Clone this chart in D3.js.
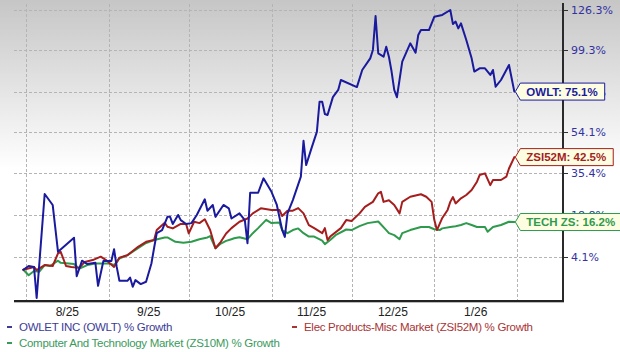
<!DOCTYPE html>
<html>
<head>
<meta charset="utf-8">
<script src="https://cdn.jsdelivr.net/npm/d3@7"></script>
<style>
  html, body { margin: 0; padding: 0; background: #fff; }
  svg { display: block; }
</style>
</head>
<body>
<svg id="chart" width="620" height="352"></svg>
<script>
// ---------- DATA ----------
const owltDates = ["2025-07-31","2025-08-02","2025-08-04","2025-08-05","2025-08-08","2025-08-11","2025-08-13","2025-08-19","2025-08-20","2025-08-22","2025-08-24","2025-08-27","2025-08-28","2025-08-30","2025-09-02","2025-09-03","2025-09-04","2025-09-05","2025-09-08","2025-09-09","2025-09-10","2025-09-11","2025-09-13","2025-09-15","2025-09-17","2025-09-18","2025-09-19","2025-09-21","2025-09-23","2025-09-24","2025-09-25","2025-09-27","2025-09-28","2025-09-30","2025-10-02","2025-10-04","2025-10-07","2025-10-08","2025-10-10","2025-10-11","2025-10-14","2025-10-16","2025-10-17","2025-10-20","2025-10-22","2025-10-23","2025-10-24","2025-10-27","2025-10-29","2025-11-01","2025-11-03","2025-11-05","2025-11-06","2025-11-07","2025-11-09","2025-11-12","2025-11-13","2025-11-14","2025-11-16","2025-11-18","2025-11-19","2025-11-20","2025-11-21","2025-11-22","2025-11-24","2025-11-26","2025-11-27","2025-12-03","2025-12-05","2025-12-08","2025-12-09","2025-12-10","2025-12-11","2025-12-13","2025-12-14","2025-12-15","2025-12-16","2025-12-17","2025-12-18","2025-12-20","2025-12-23","2025-12-25","2025-12-26","2025-12-27","2025-12-30","2026-01-01","2026-01-04","2026-01-07","2026-01-08","2026-01-09","2026-01-10","2026-01-11","2026-01-13","2026-01-15","2026-01-16","2026-01-18","2026-01-20","2026-01-22","2026-01-23","2026-01-24","2026-01-26","2026-01-29","2026-01-31"];
const owltValues = [0,1.2,0.9,-8.5,26.9,22.6,5.8,10.6,-2.0,2.9,1.8,2.2,-4.9,2.8,2.8,6.7,0.9,-3.4,-3.4,-2.4,-5.2,-3.2,-4.4,-3.7,2.0,7.1,12.2,13.3,18.1,18.1,15.5,18.8,16.9,15.5,15.8,18.8,24.8,20.4,22.6,18.1,22.6,21.3,17.5,19.4,16.9,8.7,27.4,27.4,33.3,27.8,22.6,13.3,10.9,19.4,24.5,34.0,50.0,39.0,46.6,54.3,69.6,69.6,63.2,62.7,72.1,76.0,81.6,77.6,87.4,94.4,99.6,122.1,97.5,95.4,101.6,95.4,86.5,76.0,72.0,92.4,103.8,97.9,109.2,112.5,112.5,121.5,122.8,126.3,116.5,118.2,113.6,117.0,105.9,94.4,86.5,88.4,88.4,84.5,87.4,77.8,81.6,90.4,75.1];

const zsiDates = ["2025-07-31","2025-08-04","2025-08-05","2025-08-08","2025-08-11","2025-08-13","2025-08-14","2025-08-16","2025-08-18","2025-08-21","2025-08-23","2025-08-26","2025-08-29","2025-08-31","2025-09-03","2025-09-05","2025-09-08","2025-09-12","2025-09-15","2025-09-18","2025-09-19","2025-09-22","2025-09-23","2025-09-25","2025-09-28","2025-09-30","2025-10-01","2025-10-03","2025-10-05","2025-10-07","2025-10-09","2025-10-11","2025-10-13","2025-10-15","2025-10-17","2025-10-20","2025-10-23","2025-10-25","2025-10-28","2025-11-01","2025-11-04","2025-11-05","2025-11-07","2025-11-09","2025-11-11","2025-11-13","2025-11-15","2025-11-17","2025-11-20","2025-11-21","2025-11-22","2025-11-23","2025-11-27","2025-11-29","2025-12-01","2025-12-04","2025-12-06","2025-12-09","2025-12-11","2025-12-12","2025-12-13","2025-12-15","2025-12-17","2025-12-19","2025-12-20","2025-12-23","2025-12-27","2025-12-29","2025-12-31","2026-01-01","2026-01-02","2026-01-04","2026-01-06","2026-01-07","2026-01-08","2026-01-09","2026-01-11","2026-01-13","2026-01-15","2026-01-17","2026-01-18","2026-01-20","2026-01-22","2026-01-23","2026-01-26","2026-01-28","2026-01-29","2026-01-31"];
const zsiValues = [0,0.9,-0.1,1.5,1.2,5.3,5.8,1.2,0.9,0.6,2.5,3.1,4.2,3.1,0.9,3.9,4.7,7.5,9.2,9.8,13.3,15.9,14.5,13.9,15.5,15.5,12.1,16.3,15.8,17.2,13.3,7.0,9.2,12.1,14.0,16.3,17.5,19.4,21.3,20.7,20.7,18.4,20.4,20.4,21.4,19.4,15.1,14.0,12.2,14.0,9.8,11.0,14.0,16.9,16.6,19.4,21.9,23.8,27.2,27.8,23.8,24.4,22.6,19.4,23.8,25.8,26.8,25.8,23.8,17.0,13.3,17.7,20.7,23.8,25.7,23.2,25.2,26.5,28.5,31.9,34.7,35.4,30.5,32.6,32.6,34.0,37.5,42.5];

const techDates = ["2025-07-31","2025-08-02","2025-08-04","2025-08-06","2025-08-08","2025-08-10","2025-08-13","2025-08-14","2025-08-17","2025-08-19","2025-08-21","2025-08-24","2025-08-27","2025-09-01","2025-09-03","2025-09-05","2025-09-08","2025-09-12","2025-09-15","2025-09-18","2025-09-22","2025-09-23","2025-09-26","2025-09-29","2025-10-02","2025-10-05","2025-10-08","2025-10-09","2025-10-11","2025-10-13","2025-10-15","2025-10-17","2025-10-18","2025-10-20","2025-10-23","2025-10-25","2025-10-27","2025-10-30","2025-11-01","2025-11-04","2025-11-05","2025-11-07","2025-11-09","2025-11-11","2025-11-13","2025-11-15","2025-11-17","2025-11-20","2025-11-21","2025-11-23","2025-11-25","2025-11-29","2025-12-01","2025-12-04","2025-12-07","2025-12-11","2025-12-14","2025-12-15","2025-12-17","2025-12-19","2025-12-20","2025-12-23","2025-12-27","2025-12-30","2026-01-01","2026-01-03","2026-01-04","2026-01-07","2026-01-09","2026-01-11","2026-01-13","2026-01-15","2026-01-17","2026-01-20","2026-01-21","2026-01-23","2026-01-26","2026-01-29","2026-01-31"];
const techValues = [0,-1.7,-0.4,-0.6,1.5,1.2,2.9,2.2,2.0,1.8,0.4,1.5,2.0,2.0,1.5,3.6,4.7,7.0,8.8,9.8,10.7,10.7,9.2,8.9,9.2,10.1,10.7,11.2,7.0,8.6,9.5,10.1,10.4,10.8,10.1,12.2,14.0,17.0,15.8,16.0,13.3,12.2,13.3,13.9,12.2,11.0,11.0,9.6,8.4,9.8,11.5,13.5,13.3,14.7,15.8,16.4,13.3,12.2,11.5,10.1,12.2,13.3,14.4,14.4,13.6,13.3,13.9,14.4,14.7,15.1,15.8,15.1,14.4,14.4,12.7,14.4,15.1,16.3,16.2];

const yTickValues = [4.1, 18.8, 35.4, 54.1, 75.0, 99.3, 126.3];
const monthStarts = ["2025-08-01","2025-09-01","2025-10-01","2025-11-01","2025-12-01","2026-01-01","2026-02-01"];
const monthLabels = ["8/25","9/25","10/25","11/25","12/25","1/26"];

const seriesNames = ["OWLT", "ZSI52M", "TECH ZS"];
const legendNames = ["OWLET INC (OWLT) % Growth", "Elec Products-Misc Market (ZSI52M) % Growth", "Computer And Technology Market (ZS10M) % Growth"];
const seriesColors = ["#1a1a9e", "#a51d1d", "#2e9a4c"];
const legendColors = ["#3c3c96", "#a83434", "#3a9a5c"];

// ---------- SCALES ----------
const parse = d3.timeParse("%Y-%m-%d");
const svg = d3.select("#chart");
const W = 620, H = 352;
const plotLeft = 14, plotRight = 563, plotTop = 4, plotBottom = 301;

const x = d3.scaleTime()
  .domain([parse("2025-08-01"), parse("2026-02-01")])
  .range([26, 517]);
const yLog = d3.scaleLog().domain([1.041, 2.263]).range([257, 10]);
const y = v => yLog(1 + v / 100);

// ---------- BACKGROUND ----------
const defs = svg.append("defs");
const grad = defs.append("linearGradient").attr("id", "bg").attr("x1", 0).attr("y1", 0).attr("x2", 0).attr("y2", 1);
grad.append("stop").attr("offset", "0%").attr("stop-color", "#c6c6c6");
grad.append("stop").attr("offset", "48%").attr("stop-color", "#ffffff");
grad.append("stop").attr("offset", "100%").attr("stop-color", "#ffffff");
svg.append("rect").attr("x", 0).attr("y", 0).attr("width", W).attr("height", H).attr("fill", "url(#bg)");

// ---------- GRID ----------
const grid = svg.append("g").attr("stroke", "#b4b4b4").attr("stroke-width", 1).attr("stroke-dasharray", "3,2").attr("fill", "none");
grid.selectAll("line.h").data(yTickValues).join("line")
  .attr("x1", plotLeft).attr("x2", plotRight)
  .attr("y1", d => Math.round(y(d)) + 0.5).attr("y2", d => Math.round(y(d)) + 0.5);
grid.selectAll("line.v").data(monthStarts).join("line")
  .attr("x1", d => Math.round(x(parse(d))) + 0.5).attr("x2", d => Math.round(x(parse(d))) + 0.5)
  .attr("y1", plotTop).attr("y2", plotBottom);

// ---------- LINES ----------
const series = [
  owltDates.map((d, i) => ({ date: parse(d), value: owltValues[i] })),
  zsiDates.map((d, i) => ({ date: parse(d), value: zsiValues[i] })),
  techDates.map((d, i) => ({ date: parse(d), value: techValues[i] }))
];
const line = d3.line().x(d => x(d.date)).y(d => y(d.value));
const drawOrder = [2, 1, 0];
svg.append("g").selectAll("path").data(drawOrder).join("path")
  .attr("d", i => line(series[i]))
  .attr("fill", "none")
  .attr("stroke", i => seriesColors[i])
  .attr("stroke-width", 2)
  .attr("stroke-linejoin", "round")
  .attr("stroke-linecap", "round");

// ---------- RIGHT AXIS ----------
const yAxisG = svg.append("g");
yAxisG.selectAll("line.tick").data(yTickValues).join("line")
  .attr("x1", plotRight).attr("x2", plotRight + 5)
  .attr("y1", d => Math.round(y(d)) + 0.5).attr("y2", d => Math.round(y(d)) + 0.5)
  .attr("stroke", "#333").attr("stroke-width", 1);
yAxisG.selectAll("text").data(yTickValues).join("text")
  .attr("x", 571).attr("y", d => y(d) + 4)
  .attr("font-family", "DejaVu Sans, Verdana, sans-serif")
  .attr("font-size", 11)
  .attr("fill", "#3232a0")
  .text(d => d.toFixed(1) + "%");
svg.append("line").attr("x1", plotRight).attr("x2", plotRight).attr("y1", plotTop - 1).attr("y2", plotBottom + 1)
  .attr("stroke", "#2a2a2a").attr("stroke-width", 2);

// ---------- BOTTOM AXIS ----------
svg.append("line").attr("x1", plotLeft).attr("x2", plotRight + 1).attr("y1", plotBottom + 1.5).attr("y2", plotBottom + 1.5)
  .attr("stroke", "#bbbbbb").attr("stroke-width", 1);
svg.append("line").attr("x1", plotLeft).attr("x2", plotRight + 1).attr("y1", plotBottom).attr("y2", plotBottom)
  .attr("stroke", "#222").attr("stroke-width", 2);
svg.append("g").selectAll("text").data(monthLabels).join("text")
  .attr("x", (d, i) => (x(parse(monthStarts[i])) + x(parse(monthStarts[i + 1]))) / 2)
  .attr("y", 316)
  .attr("text-anchor", "middle")
  .attr("font-family", "Liberation Sans, Arial, sans-serif")
  .attr("font-size", 12)
  .attr("fill", "#222")
  .text(d => d);

// ---------- END LABELS ----------
const labG = svg.append("g");
series.forEach((s, i) => {
  const last = s[s.length - 1];
  const tipX = x(last.date) + 1, ty = y(last.value);
  const g = labG.append("g");
  const path = g.append("path");
  const t = g.append("text")
    .attr("x", tipX + 11).attr("y", ty + 4)
    .attr("font-family", "Liberation Sans, Arial, sans-serif")
    .attr("font-size", 11.5).attr("font-weight", "bold")
    .attr("fill", seriesColors[i])
    .text(seriesNames[i] + ": " + last.value.toFixed(1) + "%");
  const tw = t.node().getComputedTextLength();
  const bx = tipX + 5, bw = tw + 13, top = ty - 8.5, bot = ty + 8.5;
  path.attr("d", `M${tipX},${ty} L${bx},${top} L${bx + bw},${top} L${bx + bw},${bot} L${bx},${bot} Z`)
    .attr("fill", "#fdfde2").attr("stroke", seriesColors[i]).attr("stroke-width", 1);
});

// ---------- LEGEND ----------
const legPos = [[7, 331], [292, 331], [7, 347]];
const leg = svg.append("g");
legendNames.forEach((name, i) => {
  const [lx, ly] = legPos[i];
  leg.append("rect").attr("x", lx).attr("y", ly - 5).attr("width", 5).attr("height", 2).attr("fill", legendColors[i]);
  leg.append("text").attr("x", lx + 12).attr("y", ly)
    .attr("font-family", "Liberation Sans, Arial, sans-serif")
    .attr("font-size", 11.5)
    .attr("letter-spacing", -0.3)
    .attr("fill", legendColors[i])
    .text(name);
});
</script>
</body>
</html>
